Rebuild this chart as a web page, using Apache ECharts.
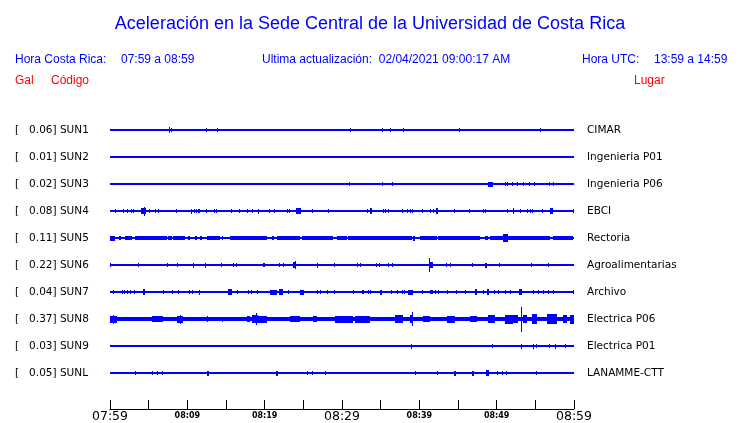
<!DOCTYPE html>
<html><head><meta charset="utf-8">
<script src="https://cdn.jsdelivr.net/npm/echarts@6/dist/echarts.min.js"></script>
<style>html,body{margin:0;padding:0;background:#fff}#c{width:740px;height:423px}</style>
</head><body><div id="c"></div>
<script>
// ---- data ----
const codes  = ['SUN1','SUN2','SUN3','SUN4','SUN5','SUN6','SUN7','SUN8','SUN9','SUNL'];
const peaks  = ['0.06','0.01','0.02','0.08','0.11','0.22','0.04','0.37','0.03','0.05'];
const places = ['CIMAR','Ingenieria P01','Ingenieria P06','EBCI','Rectoria','Agroalimentarias','Archivo','Electrica P06','Electrica P01','LANAMME-CTT'];
// x tick labels every 5 minutes from 07:59 (0) to 08:59 (60)
const tickLabels = ['07:59','','08:09','','08:19','','08:29','','08:39','','08:49','','08:59'];
const bigLabels  = ['07:59','08:29','08:59'];

// events per trace: [minute, amplitude] (spike) or [minuteStart, minuteEnd, amplitude] (burst)
const sun1 = [[7.63,3],[7.89,2],[12.41,2],[13.84,2],[31.03,2],[35.17,2],[36.21,2],[37.89,2],[45.13,2],[55.60,2]];
const sun2 = [];
const sun3 = [[30.95,2],[35.17,2],[36.47,2],[48.88,49.53,2.5],[51.08,2],[51.34,2],[51.98,2],[52.63,2],[53.41,2],[54.18,2],[54.83,2],[56.77,2],[57.29,2]];
const sun4 = [[0.65,2],[1.68,2],[2.20,2],[2.68,2],[2.97,2],[4.01,4.66,3],[4.40,4.5],[5.00,2],[5.82,2],[6.17,2],[8.53,2],
  [10.44,10.60,2.5],[10.86,2],[11.12,2],[11.38,11.64,2],[12.37,2],[13.45,2],[13.71,2],[15.65,2],[16.68,2],[17.72,2],[18.36,2],
  [19.14,2.5],[20.56,2],[21.21,2],[22.89,2],[23.14,2],[24.05,24.70,3],[26.12,2],[28.19,2],[33.23,2],[33.62,33.88,3],[35.30,2],
  [35.56,2],[35.95,2],[37.76,2],[38.41,2],[38.79,2],[39.05,2],[40.34,2],[41.38,2],[41.77,2],[42.16,42.41,3],[44.48,2],[46.42,2],
  [48.23,2],[48.49,2],[51.34,2],[52.11,3],[53.02,2],[53.92,2],[54.31,2],[54.57,2],[55.86,2],[56.90,57.29,3],[59.87,2]];
const sun5 = [[0,0.65,2.5],[1.16,1.42,2],[1.94,2.84,2],[3.23,7.37,2],[7.50,8.02,2],[8.15,9.70,2],[10.09,10.34,2],[10.99,11.25,2],
  [11.64,11.90,2],[12.54,14.22,2],[14.48,14.61,2],[15.52,20.30,2],[20.95,21.21,2],[21.59,24.57,2],[24.83,28.84,2],[29.35,30.65,2],
  [30.78,39.05,2],[39.18,39.44,2.5],[40.09,42.28,2],[42.41,47.84,2],[48.49,48.88,2],[49.14,50.82,2],[50.82,51.47,4],
  [51.47,56.90,2],[57.29,59.87,2]];
const sun6 = [[0.00,2],[3.66,2],[7.33,2],[8.62,2],[10.77,2.5],[12.25,2.5],[14.31,2],[15.91,2],[16.25,2],[19.74,2],[19.95,2],
  [21.89,2],[22.41,2],[23.62,24.05,3],[23.88,4],[26.81,2.5],[28.97,2],[31.98,2],[32.33,2],[34.40,2],[34.82,2],[35.99,2],[36.43,2],
  [41.29,7],[41.38,41.77,3],[43.45,2],[43.97,2],[46.85,2],[48.49,48.71,2.5],[50.34,2],[54.40,2],[56.68,2]];
const sun7 = [[0.43,2],[1.51,2],[1.81,2],[2.16,2],[2.59,2],[3.10,2],[4.27,4.53,3],[6.89,2],[7.98,2],[8.75,2],[10.22,2],[10.56,2],
  [11.55,2.5],[15.26,15.78,3],[16.46,2],[17.84,2],[18.19,2],[18.97,2],[20.69,21.56,2.5],[21.85,22.37,3],[23.06,2],[24.57,25.09,2.5],
  [26.77,2],[27.16,2],[28.02,2],[28.97,2],[31.46,2],[32.55,2],[32.76,2],[33.36,2],[33.62,2],[34.91,35.17,2.5],[36.34,2],[37.07,2],
  [37.72,2],[38.06,2],[38.53,39.18,2.5],[40.31,2],[41.38,41.77,2],[42.03,2],[42.45,2],[43.62,2],[44.74,2],[45.91,2],[47.20,47.42,3],
  [48.19,2],[48.71,49.01,3],[49.66,2],[50.21,2],[51.08,2],[51.72,2],[52.89,53.32,3],[54.74,2],[55.38,2],[56.03,2],[56.68,2],[57.32,2],[59.91,2]];
const sun8 = [[0,60,1.8],[0,0.91,3.5],[0.39,4.5],[5.43,6.85,3],[8.66,9.44,3.5],[9.05,4.5],[12.54,3],[14.44,2.5],[17.72,18.10,3],
  [18.36,19.14,4],[18.84,6],[19.14,20.30,3.5],[23.28,24.57,3],[26.25,26.77,3],[29.09,31.42,3.5],[31.68,33.62,3.5],[36.85,37.89,4],
  [38.79,39.18,4],[39.01,7],[40.47,41.38,3],[43.58,44.61,3.5],[46.55,47.46,3],[48.88,49.78,4],[51.08,52.11,4.5],[52.11,52.76,4],
  [53.11,12.5],[53.41,53.92,4],[54.57,55.22,5],[56.51,57.80,5],[58.58,59.10,4],[59.49,60,4.5]];
const sun9 = [[38.88,2.5],[49.36,2],[53.11,2.5],[54.74,2.5],[55.05,2],[56.77,2],[57.54,2.5],[58.84,2]];
const sunl = [[3.23,2],[5.39,2],[6.04,2],[6.76,2],[12.54,12.80,2.5],[21.47,21.72,2.5],[25.44,2],[26.08,2],[27.80,2],[39.44,2],
  [42.32,2],[44.48,44.74,2.5],[46.81,47.07,2.5],[48.62,49.01,3],[50.01,2],[50.65,2],[51.17,2],[55.09,2]];
const traces = [sun1,sun2,sun3,sun4,sun5,sun6,sun7,sun8,sun9,sunl];

// ---- chart ----
const BLUE = '#0000ff', RED = '#ff0000';
const AMP_UNIT = 1/27; // amplitude unit as a fraction of trace spacing
const chart = echarts.init(document.getElementById('c'), null, {renderer:'canvas'});

const series = [];
traces.forEach((ev, row) => {
  series.push({type:'line', data:[[0,row],[60,row]], symbol:'none', silent:true,
    lineStyle:{color:BLUE, width:2}, animation:false, z:2});
  const data = ev.map(e => e.length === 2 ? [e[0], e[0], e[1], row] : [e[0], e[1], e[2], row]);
  series.push({type:'custom', data, silent:true, animation:false, z:3,
    encode:{x:[0,1], y:3},
    renderItem(params, api){
      const t0 = api.value(0), t1 = api.value(1), a = api.value(2), r = api.value(3);
      const p0 = api.coord([t0, r - a*AMP_UNIT]);
      const p1 = api.coord([t1, r + a*AMP_UNIT]);
      const x = Math.round(Math.min(p0[0],p1[0]));
      const w = Math.max(1, Math.round(Math.abs(p1[0]-p0[0])));
      const y = Math.round(Math.min(p0[1],p1[1]));
      const h = Math.max(1, Math.round(Math.abs(p1[1]-p0[1])));
      return {type:'rect', shape:{x, y, width:w, height:h}, style:{fill:BLUE}};
    }});
});

const yBase = {type:'value', min:-1, max:31/3, interval:1, inverse:true,
  axisLine:{show:false}, axisTick:{show:false}, splitLine:{show:false}};

chart.setOption({
  animation:false,
  backgroundColor:'#fff',
  title:{text:'Aceleración en la Sede Central de la Universidad de Costa Rica', left:'center', top:10,
    textStyle:{color:BLUE, fontFamily:'Liberation Sans', fontSize:18, fontWeight:'normal'}},
  grid:{left:110, right:166, top:103, bottom:14, containLabel:false},
  xAxis:{type:'value', min:0, max:60, interval:5, position:'bottom',
    axisLine:{onZero:false, lineStyle:{color:'#000', width:1}},
    axisTick:{inside:true, length:9, lineStyle:{color:'#000', width:1}},
    splitLine:{show:false},
    axisLabel:{margin:1, showMinLabel:true, showMaxLabel:true,
      formatter(v){
        const s = tickLabels[Math.round(v/5)] || '';
        if(!s) return '';
        return bigLabels.includes(s) ? '{big|'+s+'}' : '{small|'+s+'}';
      },
      rich:{
        big:{fontFamily:'DejaVu Sans', fontSize:12.5, color:'#000'},
        small:{fontFamily:'DejaVu Sans', fontSize:8, fontWeight:'bold', color:'#000', padding:[2,0,0,0]}
      }}},
  yAxis:[
    Object.assign({}, yBase, {position:'left',
      axisLabel:{align:'left', margin:95, color:'#000', fontFamily:'DejaVu Sans', fontSize:10.5,
        formatter(v){ return (Number.isInteger(v) && v>=0 && v<codes.length) ? '[   '+peaks[v]+'] '+codes[v] : ''; }}}),
    Object.assign({}, yBase, {position:'right',
      axisLabel:{align:'left', margin:13, color:'#000', fontFamily:'DejaVu Sans', fontSize:10.5,
        formatter(v){ return (Number.isInteger(v) && v>=0 && v<places.length) ? places[v] : ''; }}})
  ],
  graphic:[
    {type:'text', x:15, y:60, style:{text:'Hora Costa Rica:', fill:BLUE, font:'12px "Liberation Sans"', verticalAlign:'middle'}},
    {type:'text', x:121, y:60, style:{text:'07:59 a 08:59', fill:BLUE, font:'12px "Liberation Sans"', verticalAlign:'middle'}},
    {type:'text', x:262, y:60, style:{text:'Ultima actualización:  02/04/2021 09:00:17 AM', fill:BLUE, font:'12px "Liberation Sans"', verticalAlign:'middle'}},
    {type:'text', x:582, y:60, style:{text:'Hora UTC:', fill:BLUE, font:'12px "Liberation Sans"', verticalAlign:'middle'}},
    {type:'text', x:654, y:60, style:{text:'13:59 a 14:59', fill:BLUE, font:'12px "Liberation Sans"', verticalAlign:'middle'}},
    {type:'text', x:15, y:81, style:{text:'Gal', fill:RED, font:'12px "Liberation Sans"', verticalAlign:'middle'}},
    {type:'text', x:51, y:81, style:{text:'Código', fill:RED, font:'12px "Liberation Sans"', verticalAlign:'middle'}},
    {type:'text', x:634, y:81, style:{text:'Lugar', fill:RED, font:'12px "Liberation Sans"', verticalAlign:'middle'}}
  ],
  series
});
</script></body></html>
